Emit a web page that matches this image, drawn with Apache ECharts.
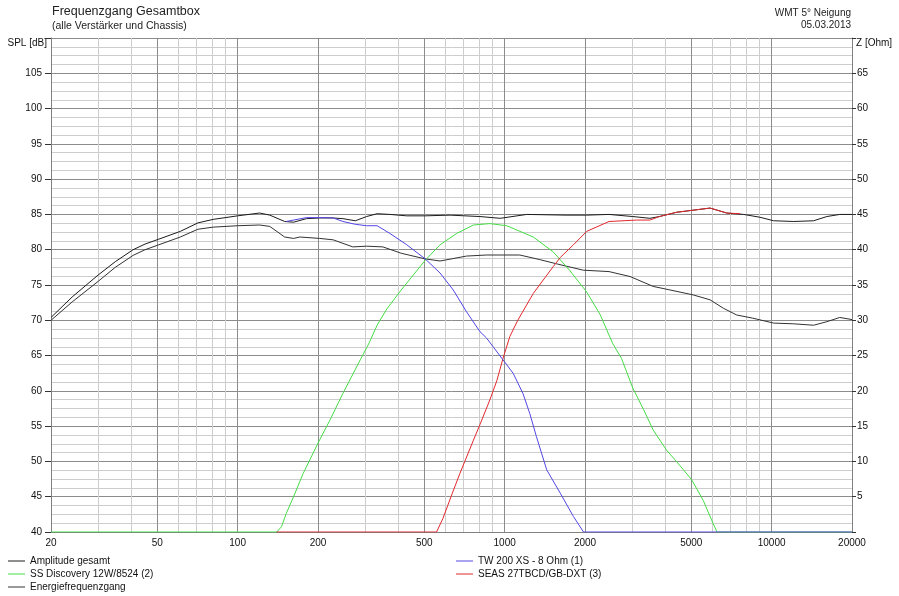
<!DOCTYPE html>
<html>
<head>
<meta charset="utf-8">
<script src="https://cdn.jsdelivr.net/npm/echarts@6/dist/echarts.min.js"></script>
<style>
  html, body { margin: 0; padding: 0; background: #fff; }
  #main { width: 899px; height: 596px; }
</style>
</head>
<body>
<div id="main"></div>
<script>
// values (frequency in Hz, level in dB)
var ampFreq = [20, 24, 30, 34.8, 40.6, 45, 50.7, 61, 71, 81, 100, 121, 132, 150, 162, 181, 203, 228, 248, 276, 304, 333, 372, 430, 504, 624, 808, 963, 1210, 1700, 2030, 2460, 3020, 3500, 3800, 4400, 5080, 5880, 6790, 7860, 9040, 10180, 12100, 14360, 16100, 18000, 20000];
var ampVal  = [70.4, 73.3, 76.4, 78.3, 80.0, 80.8, 81.5, 82.6, 83.8, 84.3, 84.8, 85.2, 84.9, 84.0, 83.9, 84.4, 84.5, 84.5, 84.4, 84.1, 84.7, 85.1, 85.0, 84.8, 84.8, 84.9, 84.7, 84.45, 85.0, 84.9, 84.9, 85.0, 84.7, 84.45, 84.7, 85.3, 85.6, 85.9, 85.2, 85.0, 84.6, 84.1, 84.0, 84.1, 84.7, 85.0, 85.0];

var energyFreq = [20, 24, 30, 34.8, 40.6, 45, 50.7, 61, 71, 81, 100, 121, 132, 150, 162, 171, 203, 228, 270, 304, 350, 410, 504, 573, 720, 855, 1140, 1354, 1566, 1970, 2460, 2950, 3600, 4160, 5080, 5880, 6600, 7400, 8500, 10180, 12100, 14360, 16100, 18000, 20000];
var energyVal  = [70.0, 72.6, 75.5, 77.5, 79.2, 80.0, 80.7, 81.8, 82.9, 83.2, 83.4, 83.5, 83.3, 81.8, 81.6, 81.8, 81.6, 81.4, 80.4, 80.5, 80.4, 79.5, 78.7, 78.4, 79.1, 79.25, 79.25, 78.6, 78.0, 77.1, 76.9, 76.2, 74.8, 74.3, 73.6, 72.9, 71.7, 70.75, 70.3, 69.6, 69.5, 69.3, 69.8, 70.4, 70.1];

var twFreq = [152, 181, 203, 228, 248, 276, 304, 333, 372, 430, 504, 573, 642, 720, 808, 855, 986, 1076, 1172, 1242, 1316, 1438, 1616, 1810, 1974, 20000];
var twVal  = [84.0, 84.55, 84.55, 84.5, 84.0, 83.6, 83.4, 83.4, 82.3, 80.7, 78.7, 76.7, 74.3, 71.2, 68.4, 67.5, 64.4, 62.5, 59.6, 56.8, 53.5, 48.8, 45.5, 42.2, 40, 40];

var ssFreq = [20, 140, 146, 152, 162, 176, 200, 222, 248, 288, 311, 333, 362, 410, 504, 573, 661, 764, 880, 1018, 1280, 1520, 1750, 2030, 2280, 2540, 2740, 3020, 3320, 3600, 4040, 4400, 5020, 5540, 5960, 6240, 20000];
var ssVal  = [40, 40, 40.75, 42.6, 45.0, 48.3, 52.6, 55.9, 59.65, 64.4, 66.8, 69.3, 71.6, 74.3, 78.5, 80.7, 82.3, 83.5, 83.7, 83.4, 81.8, 79.7, 77.1, 74.0, 70.8, 66.7, 64.6, 60.4, 57.3, 54.45, 51.6, 50.0, 47.4, 44.5, 41.7, 40, 40];

var seasFreq = [140, 556, 587, 637, 680, 764, 808, 880, 936, 986, 1046, 1120, 1280, 1520, 1616, 1810, 2030, 2460, 3120, 3500, 3800, 4400, 5080, 5880, 6790, 7620];
var seasVal  = [40, 40, 41.9, 45.5, 48.3, 53.0, 55.2, 58.7, 61.5, 64.6, 67.7, 70.0, 73.8, 77.6, 78.9, 80.7, 82.6, 84.0, 84.2, 84.2, 84.7, 85.3, 85.6, 85.9, 85.2, 85.1];

var freqLabels = [20, 50, 100, 200, 500, 1000, 2000, 5000, 10000, 20000];
var freqGrid = [20, 30, 40, 50, 60, 70, 80, 90, 100, 200, 300, 400, 500, 600, 700, 800, 900, 1000,
                2000, 3000, 4000, 5000, 6000, 7000, 8000, 9000, 10000, 20000];

function pairs(f, v) {
    return f.map(function (x, i) { return [x, v[i]]; });
}

var FONT = 'Liberation Sans, Arial, sans-serif';
var MAJ = '#8c8c8c', MIN = '#cdcdcd';

var myChart = echarts.init(document.getElementById('main'));

function line(name, f, v, color, z) {
    return {
        name: name, type: 'line', data: pairs(f, v),
        showSymbol: false, symbol: 'none', z: z,
        lineStyle: {color: color, width: 1}, itemStyle: {color: color}
    };
}

function smallTitle(text, top) {
    return {
        text: text, right: 48, top: top, padding: 0,
        textStyle: {fontSize: 10, fontWeight: 'normal', color: '#222', fontFamily: FONT, lineHeight: 12}
    };
}

function legend(left, names) {
    return {
        left: left, top: 555, orient: 'vertical', itemGap: 1, padding: 0, selectedMode: false,
        icon: 'rect', itemWidth: 17, itemHeight: 1,
        textStyle: {fontSize: 10, color: '#111', fontFamily: FONT, lineHeight: 12},
        data: names
    };
}

myChart.setOption({
    animation: false,
    backgroundColor: '#fff',
    textStyle: {fontFamily: FONT},
    title: [
        {
            text: 'Frequenzgang Gesamtbox', subtext: '(alle Verstärker und Chassis)',
            left: 52, top: 5, padding: 0, itemGap: 1,
            textStyle: {fontSize: 12.5, fontWeight: 'normal', color: '#222', fontFamily: FONT, lineHeight: 14},
            subtextStyle: {fontSize: 10.5, color: '#222', fontFamily: FONT, lineHeight: 12}
        },
        smallTitle('WMT 5° Neigung', 7),
        smallTitle('05.03.2013', 19)
    ],
    legend: [
        legend(8, ['Amplitude gesamt', 'SS Discovery 12W/8524 (2)', 'Energiefrequenzgang']),
        legend(456, ['TW 200 XS - 8 Ohm (1)', 'SEAS 27TBCD/GB-DXT (3)'])
    ],
    grid: {left: 51, right: 47, top: 38, bottom: 64},
    xAxis: {
        type: 'log', logBase: 10, min: 20, max: 20000,
        axisLine: {lineStyle: {color: '#808080'}},
        axisTick: {show: false, customValues: freqGrid},
        axisLabel: {customValues: freqLabels, fontSize: 10, color: '#111', margin: 6, fontFamily: FONT,
            formatter: function (v) { return String(Math.round(v)); }},
        splitLine: {show: true, lineStyle: {color: [MAJ, MIN, MIN, MAJ, MIN, MIN, MIN, MIN, MAJ], width: 1}}
    },
    yAxis: [
        {
            type: 'value', min: 40, max: 110, interval: 5,
            name: 'SPL [dB]', nameLocation: 'end', nameGap: -5,
            nameTextStyle: {align: 'right', verticalAlign: 'middle', padding: [0, 4, 0, 0], fontSize: 10, color: '#111', fontFamily: FONT},
            axisLine: {show: true, lineStyle: {color: '#808080'}},
            axisTick: {show: true, length: 6, lineStyle: {color: '#333'}},
            axisLabel: {fontSize: 10, color: '#111', margin: 9, fontFamily: FONT,
                formatter: function (v) { return v >= 110 ? '' : v; }},
            splitLine: {lineStyle: {color: MAJ}},
            minorTick: {show: false, splitNumber: 4},
            minorSplitLine: {show: true, lineStyle: {color: MIN}}
        },
        {
            type: 'value', min: 0, max: 70, interval: 5, position: 'right',
            name: 'Z [Ohm]', nameLocation: 'end', nameGap: -5,
            nameTextStyle: {align: 'left', verticalAlign: 'middle', padding: [0, 0, 0, 4], fontSize: 10, color: '#111', fontFamily: FONT},
            axisLine: {show: true, lineStyle: {color: '#808080'}},
            axisTick: {show: true, length: 4, lineStyle: {color: '#333'}},
            axisLabel: {fontSize: 10, color: '#111', margin: 5, fontFamily: FONT,
                formatter: function (v) { return (v <= 0 || v >= 70) ? '' : v; }},
            splitLine: {show: false}
        }
    ],
    series: [
        line('Energiefrequenzgang', energyFreq, energyVal, '#333333', 2),
        line('Amplitude gesamt', ampFreq, ampVal, '#1c1c1c', 3),
        line('SS Discovery 12W/8524 (2)', ssFreq, ssVal, '#45dc45', 4),
        line('SEAS 27TBCD/GB-DXT (3)', seasFreq, seasVal, '#e2282d', 5),
        line('TW 200 XS - 8 Ohm (1)', twFreq, twVal, '#5246e4', 6)
    ]
});
</script>
</body>
</html>
